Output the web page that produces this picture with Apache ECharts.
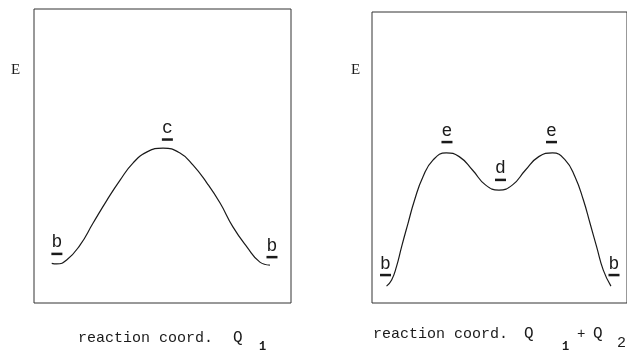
<!DOCTYPE html>
<html>
<head>
<meta charset="utf-8">
<script src="https://cdn.jsdelivr.net/npm/echarts@6/dist/echarts.min.js"></script>
<style>
  html, body { margin: 0; padding: 0; background: #fff; }
  #chart { width: 627px; height: 353px; }
</style>
</head>
<body>
<div id="chart"></div>
<script>
// left panel: single barrier along Q1 (reaction coord 0..10, energy 0..10)
const q1X = [0.69, 0.88, 1.27, 1.79, 2.30, 2.84, 3.35, 3.85, 4.40, 5.02, 5.68, 6.19, 6.73, 7.24, 7.74, 8.29, 8.79, 9.18]
const q1E = [1.35, 1.33, 1.46, 1.97, 2.72, 3.50, 4.18, 4.76, 5.14, 5.27, 5.10, 4.69, 4.08, 3.40, 2.59, 1.90, 1.39, 1.29]

// right panel: double barrier along Q1 + Q2
const q12X = [0.57, 0.77, 0.96, 1.16, 1.41, 1.67, 2.00, 2.39, 2.91, 3.42, 3.94, 4.46, 4.98, 5.50, 6.02, 6.54, 7.08, 7.58, 7.96, 8.29, 8.55, 8.81, 9.07, 9.37]
const q12E = [0.58, 0.79, 1.25, 1.93, 2.73, 3.54, 4.34, 4.91, 5.16, 5.03, 4.57, 4.05, 3.88, 4.05, 4.57, 5.03, 5.16, 4.91, 4.34, 3.54, 2.74, 1.93, 1.13, 0.58]

// state labels
const q1Names = ['b', 'c', 'b']
const q1LabelX = [0.89, 5.19, 9.26]
const q1LabelE = [1.67, 5.56, 1.56]

const q12Names = ['b', 'e', 'd', 'e', 'b']
const q12LabelX = [0.53, 2.94, 5.04, 7.04, 9.49]
const q12LabelE = [0.96, 5.53, 4.23, 5.53, 0.96]

const ink = '#1a1a1a'
const mono = '"Liberation Mono", "DejaVu Sans Mono", monospace'
const serif = '"Liberation Serif", "DejaVu Serif", serif'

const pairs = (xs, ys) => xs.map((x, i) => [x, ys[i]])
const labelPts = (names, xs, ys) => names.map((n, i) => ({ name: n, value: [xs[i], ys[i]] }))

function curve(idx, xs, ys) {
  return {
    type: 'line',
    xAxisIndex: idx,
    yAxisIndex: idx,
    smooth: 0.5,
    symbol: 'none',
    silent: true,
    lineStyle: { color: ink, width: 1.2 },
    data: pairs(xs, ys),
  }
}

function marks(idx, names, xs, ys) {
  return {
    type: 'scatter',
    xAxisIndex: idx,
    yAxisIndex: idx,
    silent: true,
    symbol: 'rect',
    symbolSize: [11, 2.5],
    itemStyle: { color: ink, opacity: 1 },
    label: {
      show: true,
      position: 'top',
      distance: 1,
      formatter: p => p.name,
      color: ink,
      fontFamily: mono,
      fontSize: 18,
    },
    data: labelPts(names, xs, ys),
  }
}

const axisX = i => ({ type: 'value', gridIndex: i, min: 0, max: 10, show: false })
const axisY = i => ({ type: 'value', gridIndex: i, min: 0, max: 10, show: false })

const chart = echarts.init(document.getElementById('chart'))
chart.setOption({
  animation: false,
  backgroundColor: '#fff',
  grid: [
    { left: 34, top: 9, width: 257, height: 294, show: true, borderColor: '#333', borderWidth: 1 },
    { left: 372, top: 12, width: 257, height: 291, show: true, borderColor: '#333', borderWidth: 1 },
  ],
  xAxis: [axisX(0), axisX(1)],
  yAxis: [axisY(0), axisY(1)],
  series: [
    curve(0, q1X, q1E),
    curve(1, q12X, q12E),
    marks(0, q1Names, q1LabelX, q1LabelE),
    marks(1, q12Names, q12LabelX, q12LabelE),
  ],
  graphic: [
    { type: 'text', left: 11, top: 63, style: { text: 'E', font: '15px ' + serif, fill: ink } },
    { type: 'text', left: 351, top: 63, style: { text: 'E', font: '15px ' + serif, fill: ink } },
    // x titles
    { type: 'text', left: 78, top: 331, style: { text: 'reaction coord.  ', font: '15px ' + mono, fill: ink } },
    { type: 'text', left: 233, top: 330, style: { text: 'Q', font: '16px ' + mono, fill: ink } },
    { type: 'text', left: 259, top: 341, style: { text: '1', font: 'bold 12px ' + mono, fill: ink } },
    { type: 'text', left: 373, top: 327, style: { text: 'reaction coord.', font: '15px ' + mono, fill: ink } },
    { type: 'text', left: 524, top: 326, style: { text: 'Q', font: '16px ' + mono, fill: ink } },
    { type: 'text', left: 562, top: 341, style: { text: '1', font: 'bold 12px ' + mono, fill: ink } },
    { type: 'text', left: 577, top: 327, style: { text: '+', font: '14px ' + mono, fill: ink } },
    { type: 'text', left: 593, top: 326, style: { text: 'Q', font: '16px ' + mono, fill: ink } },
    { type: 'text', left: 617, top: 336, style: { text: '2', font: '15px ' + mono, fill: ink } },
  ],
})
</script>
</body>
</html>
